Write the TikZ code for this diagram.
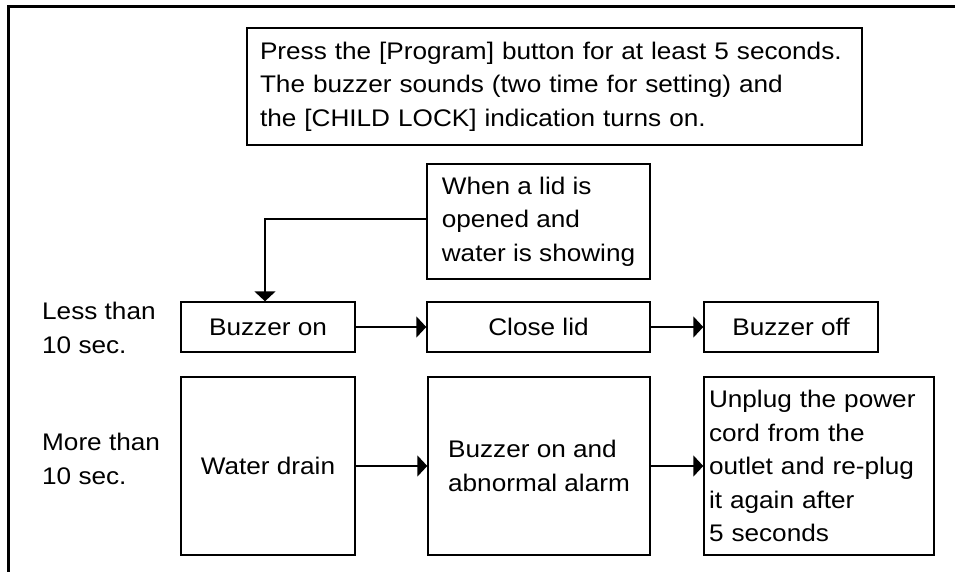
\documentclass[tikz,border=0pt]{standalone}
\usepackage{fontspec}
\setmainfont{Liberation Sans}[FakeStretch=1.09]
\usetikzlibrary{arrows.meta}
\begin{document}
\begin{tikzpicture}[x=1pt,y=-1pt,
  box/.style={draw,line width=1.4pt,inner sep=0pt,align=left,
    font=\fontsize{24}{33.5}\selectfont},
  lbl/.style={anchor=north west,inner sep=0pt,align=left,
    font=\fontsize{24}{33.5}\selectfont},
  conn/.style={line width=1.8pt,-{Triangle[length=10pt,width=21pt]}}]
\useasboundingbox (0,0) rectangle (955,572);
\draw[line width=3pt] (8,572) -- (8,7) -- (955,7);
\node[box,inner xsep=13pt,text width=589pt,minimum height=117pt] (top) at (554.5,86.5)
  {Press the [Program] button for at least 5 seconds.\\The buzzer sounds (two time for setting) and\\the [CHILD LOCK] indication turns on.};
\node[box,minimum width=223pt,minimum height=115pt] (lid) at (538.5,221.5)
  {When a lid is\\opened and\\water is showing};
\node[box,minimum width=174pt,minimum height=50pt] (bon) at (268,327) {Buzzer on};
\node[box,minimum width=223pt,minimum height=50pt] (close) at (538.5,327) {Close lid};
\node[box,minimum width=174pt,minimum height=50pt] (boff) at (791,327) {Buzzer off};
\node[box,minimum width=174pt,minimum height=178pt] (drain) at (268,466) {Water drain};
\node[box,minimum width=222pt,minimum height=178pt] (abn) at (539,466) {Buzzer on and\\abnormal alarm};
\node[box,inner xsep=5pt,text width=220pt,minimum height=178pt] (unplug) at (819,466)
  {Unplug the power\\cord from the\\outlet and re-plug\\it again after\\5 seconds};
\node[lbl] (less) at (42,302) {Less than\\10 sec.};
\node[lbl] (more) at (42,433) {More than\\10 sec.};
\draw[conn] ([yshift=2.5pt]lid.west) -| ([xshift=-3pt]bon.north);
\draw[conn] (bon) -- (close);
\draw[conn] (close) -- (boff);
\draw[conn] (drain) -- (abn);
\draw[conn] (abn) -- (unplug);
\end{tikzpicture}
\end{document}
